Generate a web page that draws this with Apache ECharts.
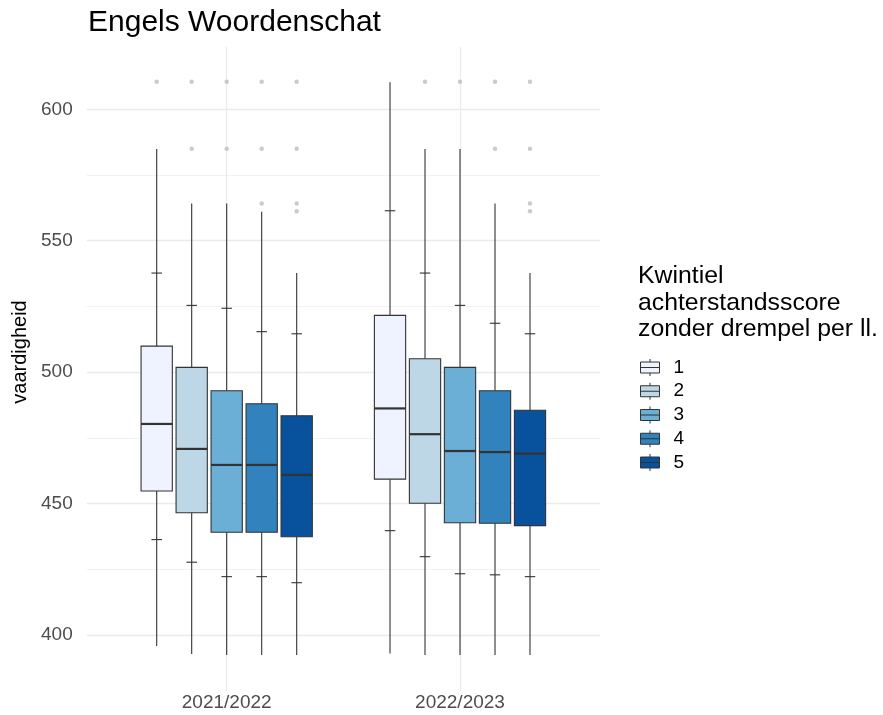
<!DOCTYPE html>
<html lang="nl">
<head>
  <meta charset="UTF-8">
  <title>Engels Woordenschat</title>
  <script src="https://cdn.jsdelivr.net/npm/echarts@6/dist/echarts.min.js"></script>
</head>
<body style="margin:0;background:#fff;">
<div id="main" style="width:883px;height:715px;"></div>
<script>
  //schooljaren op de x-as
  const years = ['2021/2022', '2022/2023'];
  //kwintielen (legenda)
  const quintiles = ['1', '2', '3', '4', '5'];
  const yTicks = [400, 450, 500, 550, 600];
  const yMinorTicks = [425, 475, 525, 575];
  //per kwintiel: [2021/2022, 2022/2023]
  const whiskerLow = [[395.8, 393.0], [392.8, 392.4], [392.4, 392.4], [392.4, 392.4], [392.4, 392.4]];
  const p10 = [[436.3, 439.7], [427.7, 429.8], [422.2, 423.3], [422.2, 422.9], [419.9, 422.2]];
  const q1 = [[454.8, 459.3], [446.5, 450.1], [439.1, 442.7], [439.1, 442.5], [437.4, 441.6]];
  const median = [[480.3, 486.2], [470.8, 476.4], [464.7, 470.0], [464.7, 469.6], [460.9, 469.0]];
  const q3 = [[509.9, 521.6], [501.8, 505.1], [492.9, 501.8], [488.0, 492.9], [483.4, 485.5]];
  const p90 = [[537.7, 561.4], [525.4, 537.7], [524.3, 525.4], [515.4, 518.6], [514.6, 514.6]];
  const whiskerHigh = [[584.9, 610.3], [564.2, 584.9], [564.2, 584.9], [561.0, 564.2], [537.7, 537.7]];
  //uitschieters
  const outliers = [
    [[610.5], []],
    [[610.5, 585.0], [610.5]],
    [[610.5, 585.0], [610.5]],
    [[610.5, 585.0, 564.2], [610.5, 585.0]],
    [[610.5, 585.0, 564.2, 561.2], [610.5, 585.0, 564.2, 561.2]]
  ];
  const colors = ['#EFF3FF', '#BDD7E7', '#6BAED6', '#3182BD', '#08519C'];

  const dodge = 0.15;     // afstand tussen kwintielen binnen een jaar
  const boxWidth = 0.134;
  const tickWidth = 0.045;
  const font = 'Liberation Sans, Arial, sans-serif';

  window.onload = function () {
    let myChart = echarts.init(document.getElementById('main'));

    function renderBox(params, api) {
      const x = api.value(0);
      const half = api.size([boxWidth, 0])[0] / 2;
      const tick = api.size([tickWidth, 0])[0] / 2;
      const pt = v => api.coord([x, v]);
      const lo = pt(api.value(1)), a = pt(api.value(2)), b = pt(api.value(3));
      const m = pt(api.value(4)), c = pt(api.value(5)), d = pt(api.value(6)), hi = pt(api.value(7));
      const line = (x1, y1, x2, y2, w) => ({
        type: 'line', shape: {x1: x1, y1: y1, x2: x2, y2: y2},
        style: {stroke: '#333333', lineWidth: w}
      });
      return {
        type: 'group',
        children: [
          line(lo[0], lo[1], b[0], b[1], 1.1),
          line(c[0], c[1], hi[0], hi[1], 1.1),
          line(a[0] - tick, a[1], a[0] + tick, a[1], 1.1),
          line(d[0] - tick, d[1], d[0] + tick, d[1], 1.1),
          {
            type: 'rect',
            shape: {x: c[0] - half, y: c[1], width: half * 2, height: b[1] - c[1]},
            style: {fill: api.visual('color'), stroke: '#333333', lineWidth: 1.1}
          },
          line(m[0] - half, m[1], m[0] + half, m[1], 2.2)
        ]
      };
    }

    const boxSeries = quintiles.map((q, k) => ({
      name: q,
      type: 'custom',
      z: 3,
      itemStyle: {color: colors[k], borderColor: '#333333', borderWidth: 1},
      renderItem: renderBox,
      encode: {x: 0, y: [1, 2, 3, 4, 5, 6, 7]},
      data: years.map((yr, i) => [
        i + (k - 2) * dodge,
        whiskerLow[k][i], p10[k][i], q1[k][i], median[k][i], q3[k][i], p90[k][i], whiskerHigh[k][i]
      ])
    }));

    const outlierData = [];
    outliers.forEach((perYear, k) => {
      perYear.forEach((vals, i) => {
        vals.forEach(v => outlierData.push([i + (k - 2) * dodge, v]));
      });
    });

    const major = {color: '#EBEBEB', width: 1.3, type: 'solid'};
    const minor = {color: '#EBEBEB', width: 0.65, type: 'solid'};

    let option = {
      backgroundColor: '#ffffff',
      animation: false,
      title: [
        {
          text: 'Engels Woordenschat',
          left: 88, top: 8, padding: 0,
          textStyle: {fontFamily: font, fontSize: 30, lineHeight: 30, fontWeight: 'normal', color: '#000000'}
        },
        {
          text: 'Kwintiel\nachterstandsscore\nzonder drempel per ll.',
          left: 638, top: 263, padding: 0,
          textStyle: {fontFamily: font, fontSize: 24.8, lineHeight: 26.6, fontWeight: 'normal', color: '#000000'}
        }
      ],
      legend: {
        data: quintiles,
        orient: 'vertical',
        left: 640, top: 358, padding: 0,
        itemWidth: 19, itemHeight: 17, itemGap: 4.75,
        selectedMode: false,
        icon: 'path://M0,3L19,3L19,14L0,14Z M0,8.5L19,8.5 M9.5,0L9.5,3 M9.5,14L9.5,17',
        itemStyle: {borderColor: '#333333', borderWidth: 1},
        textStyle: {fontFamily: font, fontSize: 19, lineHeight: 17, color: '#000000', padding: [0, 0, 0, 9]}
      },
      grid: {left: 86.7, top: 47, width: 513.3, height: 644},
      xAxis: {
        type: 'value', min: -0.6, max: 1.6,
        axisLine: {show: false}, axisTick: {show: false}, splitLine: {show: false},
        axisLabel: {
          customValues: years.map((yr, i) => i),
          formatter: v => years[Math.round(v)],
          fontFamily: font, fontSize: 19, color: '#4D4D4D', margin: 2
        }
      },
      yAxis: {
        type: 'value', min: 378.7, max: 623.7,
        name: 'vaardigheid', nameLocation: 'middle', nameGap: 54,
        nameTextStyle: {fontFamily: font, fontSize: 20, color: '#000000', padding: [0, 0, 0, 34]},
        axisLine: {show: false}, axisTick: {show: false}, splitLine: {show: false},
        axisLabel: {customValues: yTicks, fontFamily: font, fontSize: 19, color: '#4D4D4D', margin: 14}
      },
      series: [
        {
          name: 'uitschieters',
          type: 'scatter',
          z: 1,
          symbolSize: 4.5,
          itemStyle: {color: '#BEBEBE'},
          silent: true,
          data: outlierData,
          markLine: {
            z: 0,
            silent: true, symbol: 'none', label: {show: false},
            data: yTicks.map(v => ({yAxis: v, lineStyle: major}))
              .concat(yMinorTicks.map(v => ({yAxis: v, lineStyle: minor})))
              .concat(years.map((yr, i) => ({xAxis: i, lineStyle: major})))
          }
        }
      ].concat(boxSeries)
    };
    myChart.setOption(option);
  }
</script>
</body>
</html>
